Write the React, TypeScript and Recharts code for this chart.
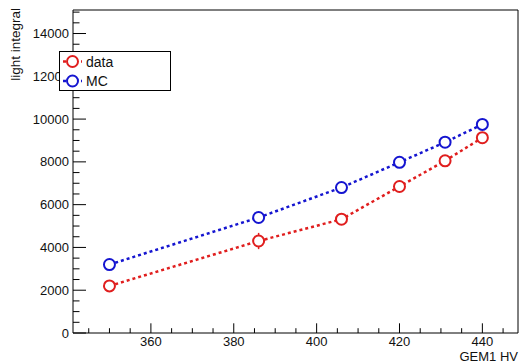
import React from 'react';
import { LineChart, Line, XAxis, YAxis, ReferenceArea, ErrorBar, Legend } from 'recharts';

const hvValues = [350, 386, 406, 420, 431, 440];
const dataValues = [2200, 4300, 5320, 6850, 8050, 9130];
const dataErrors = [150, 380, 150, 150, 150, 150];
const mcValues = [3200, 5400, 6800, 7980, 8920, 9750];
const mcErrors = [150, 150, 150, 150, 150, 150];

const xTicks = [345, 350, 355, 360, 365, 370, 375, 380, 385, 390, 395, 400, 405, 410, 415, 420, 425, 430, 435, 440, 445];
const yTicks = [0, 500, 1000, 1500, 2000, 2500, 3000, 3500, 4000, 4500, 5000, 5500, 6000, 6500, 7000, 7500, 8000, 8500, 9000, 9500, 10000, 10500, 11000, 11500, 12000, 12500, 13000, 13500, 14000, 14500, 15000];
const xDomain: [number, number] = [341.2, 448.6];
const yDomain: [number, number] = [0, 15100];

const RED = '#e01e1e';
const BLUE = '#1515d0';
const FONT = '"Liberation Sans", Arial, Helvetica, sans-serif';

const rows = hvValues.map((hv, i) => ({
  hv,
  data: dataValues[i],
  dataErr: dataErrors[i],
  mc: mcValues[i],
  mcErr: mcErrors[i],
}));

const XTick = (props: any) => {
  const { x, y, payload } = props;
  const v = payload.value;
  const major = v % 20 === 0;
  return (
    <g>
      <line x1={x} x2={x} y1={y} y2={y - (major ? 9.7 : 4.8)} stroke="#000" strokeWidth={1} />
      {major && (
        <text x={x} y={y + 12.5} textAnchor="middle" fontSize={13} fontFamily={FONT} fill="#111">
          {v}
        </text>
      )}
    </g>
  );
};

const YTick = (props: any) => {
  const { x, y, payload } = props;
  const v = payload.value;
  const major = v % 2000 === 0;
  return (
    <g>
      <line x1={x} x2={x + (major ? 13 : 6.5)} y1={y} y2={y} stroke="#000" strokeWidth={1} />
      {major && (
        <text x={x - 4} y={y + 4.6} textAnchor="end" fontSize={13} fontFamily={FONT} fill="#111">
          {v}
        </text>
      )}
    </g>
  );
};

const LegendBox = () => (
  <div
    style={{
      width: 112,
      height: 40,
      boxSizing: 'border-box',
      border: '1px solid #000',
      background: '#fff',
    }}
  >
    <svg width={110} height={38} style={{ display: 'block' }}>
      {[
        { name: 'data', color: RED, cy: 9.5 },
        { name: 'MC', color: BLUE, cy: 29 },
      ].map((e) => (
        <g key={e.name}>
          <line x1={3} x2={22} y1={e.cy} y2={e.cy} stroke={e.color} strokeWidth={2.5} strokeDasharray="3 3" />
          <circle cx={12.5} cy={e.cy} r={5.5} fill="#fff" stroke={e.color} strokeWidth={2} />
          <text x={26} y={e.cy + 5} fontSize={14} fontFamily={FONT} fill="#111">
            {e.name}
          </text>
        </g>
      ))}
    </svg>
  </div>
);

export default function App() {
  return (
    <div style={{ position: 'absolute', left: 0, top: 0, width: 522, height: 363, background: '#fff' }}>
      <LineChart width={522} height={363} data={rows} margin={{ top: 10, right: 4, bottom: 0, left: 0 }}>
        <XAxis
          dataKey="hv"
          type="number"
          domain={xDomain}
          ticks={xTicks}
          interval={0}
          allowDataOverflow
          axisLine={false}
          tickLine={false}
          tickSize={0}
          tickMargin={0}
          height={30}
          tick={<XTick />}
          label={{
            content: () => (
              <text x={518} y={360.5} textAnchor="end" fontSize={13} fontFamily={FONT} fill="#111">
                GEM1 HV
              </text>
            ),
          }}
        />
        <YAxis
          type="number"
          domain={yDomain}
          ticks={yTicks}
          interval={0}
          allowDataOverflow
          axisLine={false}
          tickLine={false}
          tickSize={0}
          tickMargin={0}
          width={73}
          tick={<YTick />}
          label={{
            content: () => (
              <text
                transform="translate(19.5,8) rotate(-90)"
                textAnchor="end"
                fontSize={13.5}
                fontFamily={FONT}
                fill="#111"
              >
                light integral
              </text>
            ),
          }}
        />
        <ReferenceArea
          x1={xDomain[0]}
          x2={xDomain[1]}
          y1={yDomain[0]}
          y2={yDomain[1]}
          fill="none"
          fillOpacity={0}
          stroke="#000"
          strokeWidth={1}
          ifOverflow="visible"
        />
        <Line
          dataKey="data"
          type="linear"
          stroke={RED}
          strokeWidth={2.5}
          strokeDasharray="3 3"
          isAnimationActive={false}
          dot={{ r: 5.5, fill: '#fff', stroke: RED, strokeWidth: 2, strokeDasharray: 'none' }}
          activeDot={false}
        >
          <ErrorBar dataKey="dataErr" direction="y" width={0} stroke={RED} strokeWidth={1.5} isAnimationActive={false} />
        </Line>
        <Line
          dataKey="mc"
          type="linear"
          stroke={BLUE}
          strokeWidth={2.5}
          strokeDasharray="3 3"
          isAnimationActive={false}
          dot={{ r: 5.5, fill: '#fff', stroke: BLUE, strokeWidth: 2, strokeDasharray: 'none' }}
          activeDot={false}
        >
          <ErrorBar dataKey="mcErr" direction="y" width={0} stroke={BLUE} strokeWidth={1.5} isAnimationActive={false} />
        </Line>
        <Legend
          layout="vertical"
          align="center"
          verticalAlign="middle"
          content={<LegendBox />}
          wrapperStyle={{ left: 59, top: 51, width: 112, height: 40, right: 'auto', bottom: 'auto' }}
        />
      </LineChart>
    </div>
  );
}
